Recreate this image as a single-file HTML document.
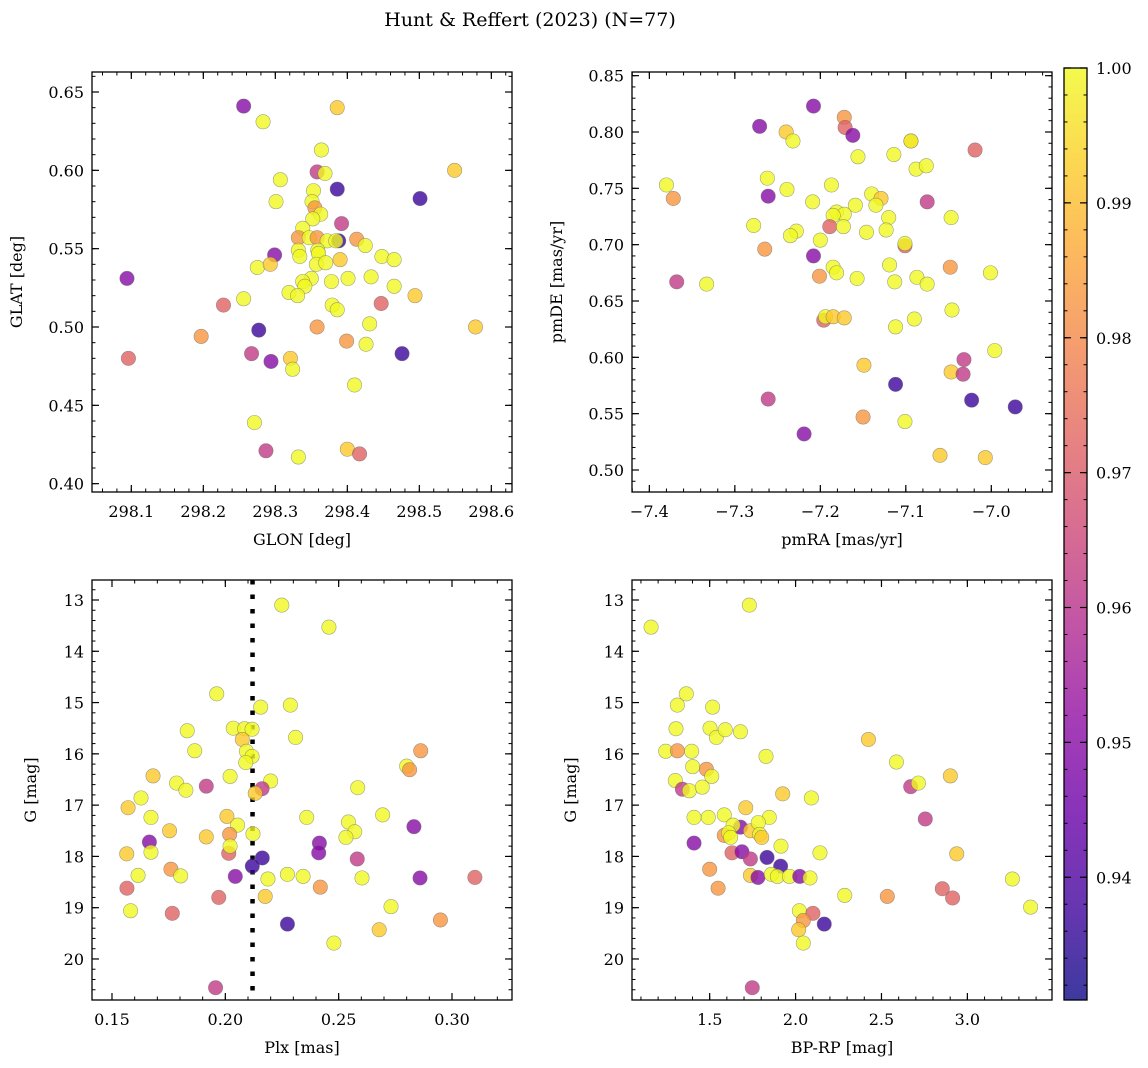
<!DOCTYPE html>
<html><head><meta charset="utf-8">
<style>
body{margin:0;background:#fff;}
svg{display:block;font-family:"DejaVu Serif","Liberation Serif",serif;}
</style></head>
<body>
<svg id="fig" width="1148" height="1068" viewBox="0 0 1148 1068" xmlns="http://www.w3.org/2000/svg">
<defs>
<linearGradient id="plasma" x1="0" y1="1" x2="0" y2="0">
<stop offset="0" stop-color="#0d0887"/><stop offset="0.1" stop-color="#41049d"/><stop offset="0.2" stop-color="#6a00a8"/><stop offset="0.3" stop-color="#8f0da4"/><stop offset="0.4" stop-color="#b12a90"/><stop offset="0.5" stop-color="#cc4778"/><stop offset="0.6" stop-color="#e16462"/><stop offset="0.7" stop-color="#f2844b"/><stop offset="0.8" stop-color="#fca636"/><stop offset="0.9" stop-color="#fcce25"/><stop offset="1" stop-color="#f0f921"/>
</linearGradient>
</defs>
<text x="530" y="26" font-size="19" text-anchor="middle">Hunt &amp; Reffert (2023) (N=77)</text>
</svg>
<script>
// probability codes
const Y=1.0,O=0.992,R=0.983,P=0.972,M=0.962,V=0.950,B=0.937;
// Panel 1: GLON / GLAT
const glon=[298.256,298.283,298.386,298.364,298.358,298.369,298.549,298.386,298.501,298.307,298.301,298.353,298.351,298.355,298.363,298.352,298.392,298.338,298.332,298.347,298.358,298.372,298.388,298.384,298.413,298.425,298.332,298.334,298.359,298.360,298.299,298.357,298.370,298.390,298.448,298.465,298.275,298.293,298.094,298.350,298.338,298.341,298.378,298.401,298.433,298.465,298.319,298.331,298.256,298.228,298.379,298.386,298.447,298.494,298.431,298.358,298.578,298.277,298.197,298.399,298.426,298.096,298.267,298.294,298.321,298.324,298.476,298.410,298.271,298.287,298.332,298.400,298.417];
const glat=[0.641,0.631,0.640,0.613,0.599,0.598,0.600,0.588,0.582,0.594,0.580,0.587,0.580,0.576,0.572,0.569,0.566,0.563,0.557,0.557,0.557,0.555,0.555,0.555,0.556,0.552,0.549,0.545,0.549,0.547,0.546,0.540,0.541,0.543,0.545,0.543,0.538,0.540,0.531,0.531,0.529,0.526,0.529,0.531,0.532,0.526,0.522,0.520,0.518,0.514,0.514,0.511,0.515,0.520,0.502,0.500,0.500,0.498,0.494,0.491,0.489,0.480,0.483,0.478,0.480,0.473,0.483,0.463,0.439,0.421,0.417,0.422,0.419];
const prob1=[V,Y,O,Y,M,Y,O,B,B,Y,Y,Y,Y,R,Y,Y,M,Y,R,Y,R,Y,B,Y,R,Y,Y,Y,Y,Y,V,Y,Y,O,Y,Y,Y,O,V,Y,Y,Y,Y,Y,Y,Y,Y,Y,Y,P,Y,Y,P,O,Y,R,O,B,R,R,Y,P,M,V,O,Y,B,Y,Y,M,Y,O,P];
// Panel 2: pmRA / pmDE
const pmra=[-7.208,-7.271,-7.172,-7.171,-7.162,-7.240,-7.232,-7.094,-7.094,-7.019,-7.156,-7.114,-7.088,-7.076,-7.380,-7.372,-7.262,-7.239,-7.187,-7.261,-7.209,-7.140,-7.129,-7.135,-7.159,-7.075,-7.047,-7.278,-7.181,-7.172,-7.185,-7.189,-7.173,-7.228,-7.235,-7.146,-7.120,-7.123,-7.200,-7.101,-7.101,-7.265,-7.208,-7.185,-7.181,-7.201,-7.157,-7.119,-7.113,-7.087,-7.075,-7.048,-7.001,-7.368,-7.333,-7.046,-7.196,-7.194,-7.185,-7.172,-7.090,-7.112,-6.996,-7.032,-7.047,-7.033,-7.149,-7.112,-7.261,-7.023,-6.972,-7.150,-7.101,-7.219,-7.060,-7.007];
const pmde=[0.823,0.805,0.813,0.804,0.797,0.800,0.792,0.792,0.792,0.784,0.778,0.780,0.767,0.770,0.753,0.741,0.759,0.749,0.753,0.743,0.738,0.745,0.741,0.735,0.735,0.738,0.724,0.717,0.729,0.727,0.726,0.716,0.716,0.712,0.708,0.711,0.724,0.713,0.704,0.699,0.701,0.696,0.690,0.680,0.675,0.672,0.670,0.682,0.667,0.671,0.665,0.680,0.675,0.667,0.665,0.642,0.633,0.636,0.636,0.635,0.634,0.627,0.606,0.598,0.587,0.585,0.593,0.576,0.563,0.562,0.556,0.547,0.543,0.532,0.513,0.511];
const prob2=[V,V,R,P,V,O,Y,R,Y,P,Y,Y,Y,Y,Y,R,Y,Y,Y,V,Y,Y,O,Y,Y,M,Y,Y,Y,Y,Y,P,Y,Y,Y,Y,Y,Y,Y,P,Y,R,V,Y,Y,R,Y,Y,Y,Y,Y,R,Y,M,Y,Y,P,Y,O,O,Y,Y,Y,M,O,M,O,B,M,B,B,R,Y,V,O,O];
// Panel 3: Plx / G
const plx=[0.2249,0.2457,0.1962,0.2156,0.2287,0.1832,0.2035,0.2085,0.2118,0.2075,0.2310,0.1865,0.2093,0.2118,0.2090,0.2862,0.2800,0.2813,0.1681,0.1785,0.1826,0.1916,0.2021,0.2200,0.2162,0.2132,0.2584,0.1628,0.1571,0.1672,0.2007,0.2054,0.2359,0.2543,0.2694,0.2571,0.2532,0.2832,0.1754,0.1916,0.2019,0.2122,0.1665,0.2415,0.2412,0.2015,0.2021,0.1565,0.1672,0.2163,0.2119,0.2582,0.1760,0.1615,0.1803,0.2044,0.2188,0.2274,0.2343,0.2603,0.2859,0.3101,0.1566,0.2419,0.2176,0.1971,0.1582,0.1766,0.2731,0.2274,0.2949,0.2679,0.2479,0.1957];
const g3=[13.10,13.53,14.83,15.09,15.05,15.55,15.50,15.51,15.52,15.72,15.68,15.94,15.95,16.05,16.17,15.94,16.24,16.31,16.43,16.57,16.71,16.63,16.44,16.53,16.68,16.77,16.66,16.86,17.05,17.24,17.22,17.39,17.24,17.33,17.19,17.52,17.63,17.42,17.50,17.62,17.57,17.56,17.72,17.74,17.93,17.94,17.80,17.95,17.92,18.03,18.19,18.05,18.25,18.37,18.38,18.39,18.44,18.35,18.39,18.42,18.42,18.41,18.62,18.60,18.78,18.80,19.06,19.11,18.98,19.32,19.24,19.43,19.69,20.56];
const prob3=[Y,Y,Y,Y,Y,Y,Y,Y,Y,O,Y,Y,Y,Y,Y,R,Y,R,O,Y,Y,M,Y,Y,M,O,Y,Y,O,Y,O,Y,Y,Y,Y,Y,Y,V,O,O,R,Y,V,V,V,P,Y,O,Y,B,B,M,R,Y,Y,V,Y,Y,Y,Y,V,P,P,R,O,P,Y,P,Y,B,R,O,Y,M];
// Panel 4: BP-RP / G
const bprp=[1.159,1.731,1.364,1.312,1.517,1.304,1.502,1.539,1.591,1.679,2.424,1.244,1.312,1.395,1.828,2.587,1.401,1.481,1.512,2.901,1.300,1.341,1.382,1.457,2.670,2.715,1.925,2.092,1.710,1.409,1.492,1.585,1.847,2.755,1.679,1.636,1.738,1.783,1.585,1.610,1.622,1.791,1.803,1.409,1.915,1.630,1.688,1.737,1.834,1.913,2.142,2.938,1.500,1.737,1.781,1.859,1.894,1.964,2.024,2.084,3.262,1.549,2.286,2.534,2.854,2.914,3.368,2.022,2.101,2.167,2.045,2.018,2.045,1.748];
const g4=[13.53,13.10,14.83,15.05,15.09,15.51,15.50,15.68,15.53,15.57,15.72,15.95,15.94,15.95,16.05,16.16,16.25,16.30,16.44,16.43,16.52,16.69,16.72,16.65,16.64,16.57,16.78,16.86,17.05,17.24,17.24,17.19,17.24,17.27,17.43,17.39,17.50,17.34,17.59,17.54,17.63,17.57,17.63,17.74,17.80,17.93,17.91,18.05,18.02,18.19,17.93,17.95,18.25,18.37,18.41,18.35,18.39,18.39,18.39,18.42,18.44,18.62,18.76,18.78,18.63,18.81,18.99,19.06,19.11,19.32,19.25,19.43,19.69,20.56];
const prob4=[Y,Y,Y,Y,Y,Y,Y,Y,Y,Y,O,Y,R,Y,Y,Y,Y,R,Y,O,Y,M,Y,Y,M,Y,O,Y,O,Y,Y,Y,Y,M,V,Y,O,Y,R,Y,Y,Y,O,V,Y,P,V,M,B,B,Y,O,R,O,V,Y,Y,Y,V,Y,Y,R,Y,R,P,P,Y,Y,P,B,R,O,Y,M];
// tick labels
const ticks1x=[298.1,298.2,298.3,298.4,298.5,298.6], ticks1y=[0.40,0.45,0.50,0.55,0.60,0.65];
const ticks2x=[-7.4,-7.3,-7.2,-7.1,-7.0], ticks2y=[0.50,0.55,0.60,0.65,0.70,0.75,0.80,0.85];
const ticks3x=[0.15,0.20,0.25,0.30], ticksGy=[13,14,15,16,17,18,19,20];
const ticks4x=[1.5,2.0,2.5,3.0];
const cbTicks=[0.94,0.95,0.96,0.97,0.98,0.99,1.00];
const plxLine=0.212;

const NS="http://www.w3.org/2000/svg";
const svg=document.getElementById('fig');
function mk(tag,attrs,parent){const e=document.createElementNS(NS,tag);for(const k in attrs)e.setAttribute(k,attrs[k]);(parent||svg).appendChild(e);return e;}

const stops=[[0,[13,8,135]],[0.1,[65,4,157]],[0.2,[106,0,168]],[0.3,[143,13,164]],[0.4,[177,42,144]],[0.5,[204,71,120]],[0.6,[225,100,98]],[0.7,[242,132,75]],[0.8,[252,166,54]],[0.9,[252,206,37]],[1,[240,249,33]]];
const VMIN=0.9309,VMAX=1.0;
function plasma(v){let t=(v-VMIN)/(VMAX-VMIN);t=Math.max(0,Math.min(1,t));
 for(let i=1;i<stops.length;i++){if(t<=stops[i][0]){const a=stops[i-1],b=stops[i];const f=(t-a[0])/(b[0]-a[0]);const c=a[1].map((x,j)=>Math.round(x+(b[1][j]-x)*f));return `rgb(${c[0]},${c[1]},${c[2]})`;}}
 return 'rgb(240,249,33)';}
function fmt(v,d){const s=v.toFixed(d);return s.replace('-','\u2212');}

function panel(cfg){
 const {L,T,W,H,xmin,xmax,ymin,ymax,inv,xs,ys,ps,xt,yt,xd,yd,xminor,yminor,xlabel,ylabel,name}=cfg;
 const g=mk('g',{});
 
 
 const sx=v=>L+(v-xmin)/(xmax-xmin)*W;
 const sy=v=>inv? T+(v-ymin)/(ymax-ymin)*H : T+H-(v-ymin)/(ymax-ymin)*H;
 cfg.sx=sx;cfg.sy=sy;cfg.g=g;
 const eps=1e-9;
 for(let v=Math.ceil(xmin/xminor-eps)*xminor;v<=xmax+eps;v+=xminor){const x=sx(v);
  mk('line',{x1:x,x2:x,y1:T,y2:T+3.5,stroke:'#000','stroke-width':1},g);mk('line',{x1:x,x2:x,y1:T+H,y2:T+H-3.5,stroke:'#000','stroke-width':1},g);}
 for(let v=Math.ceil(ymin/yminor-eps)*yminor;v<=ymax+eps;v+=yminor){const y=sy(v);
  mk('line',{x1:L,x2:L+3.5,y1:y,y2:y,stroke:'#000','stroke-width':1},g);mk('line',{x1:L+W,x2:L+W-3.5,y1:y,y2:y,stroke:'#000','stroke-width':1},g);}
 xt.forEach(v=>{const x=sx(v);
  mk('line',{x1:x,x2:x,y1:T,y2:T+7,stroke:'#000','stroke-width':1.2},g);mk('line',{x1:x,x2:x,y1:T+H,y2:T+H-7,stroke:'#000','stroke-width':1.2},g);
  const t=mk('text',{x:x,y:T+H+25,'font-size':16,'text-anchor':'middle'},g);t.textContent=fmt(v,xd);
  
  });
 yt.forEach(v=>{const y=sy(v);
  mk('line',{x1:L,x2:L+7,y1:y,y2:y,stroke:'#000','stroke-width':1.2},g);mk('line',{x1:L+W,x2:L+W-7,y1:y,y2:y,stroke:'#000','stroke-width':1.2},g);
  const t=mk('text',{x:L-8,y:y+6,'font-size':16,'text-anchor':'end'},g);t.textContent=fmt(v,yd);
  
  });
 const xl=mk('text',{x:L+W/2,y:T+H+53,'font-size':16,'text-anchor':'middle'},g);xl.textContent=xlabel;
 
 
 const yx=L-(yd>0?70:56);
 const yl=mk('text',{x:yx,y:T+H/2,'font-size':16,'text-anchor':'middle',transform:`rotate(-90 ${yx} ${T+H/2})`},g);yl.textContent=ylabel;
 
 
 if(cfg.extra)cfg.extra(cfg);
 const n=Math.min(xs.length,ys.length,ps.length);
 for(let i=0;i<n;i++){const c=mk('circle',{cx:sx(xs[i]),cy:sy(ys[i]),r:7.2,fill:plasma(ps[i]),'fill-opacity':0.8,stroke:'#666','stroke-opacity':0.6,'stroke-width':0.6},g);
  
  }
 mk('rect',{x:L,y:T,width:W,height:H,fill:'none',stroke:'#000','stroke-width':1.3},g);
}
panel({name:'glon-glat-panel',L:92,T:72,W:420,H:420,xmin:298.0454,xmax:298.6287,ymin:0.39468,ymax:0.66277,inv:false,xs:glon,ys:glat,ps:prob1,xt:ticks1x,yt:ticks1y,xd:1,yd:2,xminor:0.02,yminor:0.01,xlabel:'GLON [deg]',ylabel:'GLAT [deg]'});
panel({name:'proper-motion-panel',L:632,T:72,W:420,H:420,xmin:-7.4203,xmax:-6.9290,ymin:0.48047,ymax:0.85325,inv:false,xs:pmra,ys:pmde,ps:prob2,xt:ticks2x,yt:ticks2y,xd:1,yd:2,xminor:0.02,yminor:0.01,xlabel:'pmRA [mas/yr]',ylabel:'pmDE [mas/yr]'});
panel({name:'parallax-g-panel',L:92,T:580,W:420,H:420,xmin:0.14118,xmax:0.32647,ymin:12.61,ymax:20.80,inv:true,xs:plx,ys:g3,ps:prob3,xt:ticks3x,yt:ticksGy,xd:2,yd:0,xminor:0.01,yminor:0.2,xlabel:'Plx [mas]',ylabel:'G [mag]',
 extra:c=>{const x=c.sx(plxLine);const l=mk('line',{x1:x,x2:x,y1:c.T,y2:c.T+c.H,stroke:'#000','stroke-width':4.5,'stroke-dasharray':'4.5 10'},c.g);
  
  }});
panel({name:'cmd-panel',L:632,T:580,W:420,H:420,xmin:1.0479,xmax:3.4926,ymin:12.61,ymax:20.80,inv:true,xs:bprp,ys:g4,ps:prob4,xt:ticks4x,yt:ticksGy,xd:1,yd:0,xminor:0.1,yminor:0.2,xlabel:'BP-RP [mag]',ylabel:'G [mag]'});

// colorbar
const cb=mk('g',{});


const CT=68,CB=1000,CL=1064,CW=23;
const cy=v=>CB-(v-VMIN)/(VMAX-VMIN)*(CB-CT);
mk('rect',{x:CL,y:CT,width:CW,height:CB-CT,fill:'url(#plasma)','fill-opacity':0.8},cb);
for(let v=0.932;v<=1.0001;v+=0.002){const y=cy(v);mk('line',{x1:CL+CW,x2:CL+CW-3.5,y1:y,y2:y,stroke:'#000','stroke-width':1},cb);mk('line',{x1:CL,x2:CL+3.5,y1:y,y2:y,stroke:'#000','stroke-width':1},cb);}
cbTicks.forEach(v=>{const y=cy(v);mk('line',{x1:CL+CW,x2:CL+CW-7,y1:y,y2:y,stroke:'#000','stroke-width':1.2},cb);mk('line',{x1:CL,x2:CL+7,y1:y,y2:y,stroke:'#000','stroke-width':1.2},cb);
 const t=mk('text',{x:CL+CW+9,y:y+6,'font-size':16},cb);t.textContent=v.toFixed(2);
 
 });
mk('rect',{x:CL,y:CT,width:CW,height:CB-CT,fill:'none',stroke:'#000','stroke-width':1.3},cb);
</script>
</body></html>
